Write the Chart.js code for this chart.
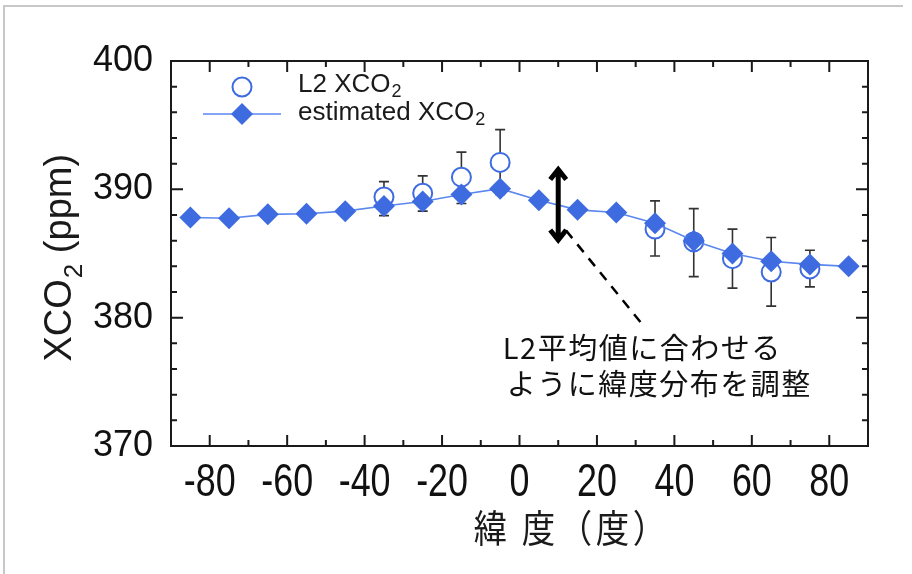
<!DOCTYPE html>
<html>
<head>
<meta charset="utf-8">
<script src="https://cdn.jsdelivr.net/npm/chart.js@4.4.0/dist/chart.umd.min.js"></script>
<style>
  html, body { margin: 0; padding: 0; background: #fff; }
  #wrap { width: 912px; height: 574px; position: relative; }
</style>
</head>
<body>
<div id="wrap"><canvas id="chart" width="912" height="574"></canvas></div>
<script>
// latitude bins (deg) and XCO2 values (ppm)
const lat = [-85, -75, -65, -55, -45, -35, -25, -15, -5, 5, 15, 25, 35, 45, 55, 65, 75, 85];
const estXco2 = [387.8, 387.75, 388.05, 388.1, 388.3, 388.7, 389.05, 389.6, 390.05,
                 389.15, 388.4, 388.2, 387.35, 386.0, 385.0, 384.4, 384.15, 384.0];

const l2Lat = [-35, -25, -15, -5, 35, 45, 55, 65, 75];
const l2Xco2 = [389.4, 389.7, 390.95, 392.1, 386.9, 385.9, 384.6, 383.55, 383.8];
const l2Low = [387.95, 388.3, 388.9, 389.6, 384.8, 383.2, 382.3, 380.9, 382.4];
const l2High = [390.6, 391.05, 392.9, 394.65, 389.1, 388.5, 386.9, 386.25, 385.25];

const xTicks = [-80, -60, -40, -20, 0, 20, 40, 60, 80];
const xMinor = [-90, -70, -50, -30, -10, 10, 30, 50, 70, 90];
const yTicks = [370, 380, 390, 400];
const yMinor = [372, 374, 376, 378, 382, 384, 386, 388, 392, 394, 396, 398];

const legendLabels = ['L2 XCO', 'estimated XCO'];
const xTitle = '緯 度（度）';
const yTitle = 'XCO';
const yUnit = ' (ppm)';
const noteLines = ['L2平均値に合わせる', 'ように緯度分布を調整'];

const BLUE = '#3e6be0';
const LINE_BLUE = '#5b87ef';
const INK = '#1a1a1a';

function subText(ctx, x, y, main, sub, size, after) {
    ctx.font = size + 'px "Liberation Sans", Arial, sans-serif';
    ctx.fillText(main, x, y);
    let w = ctx.measureText(main).width;
    ctx.font = Math.round(size * 0.68) + 'px "Liberation Sans", Arial, sans-serif';
    ctx.fillText(sub, x + w + 1, y + size * 0.28);
    w += ctx.measureText(sub).width + 1;
    if (after) {
        ctx.font = size + 'px "Liberation Sans", Arial, sans-serif';
        ctx.fillText(after, x + w, y);
    }
}

const decorPlugin = {
    id: 'decor',
    beforeDatasetsDraw(chart) {
        const ctx = chart.ctx;
        const xs = chart.scales.x, ys = chart.scales.y;
        ctx.save();
        ctx.strokeStyle = '#333';
        ctx.lineWidth = 1.6;
        for (let i = 0; i < l2Lat.length; i++) {
            const px = xs.getPixelForValue(l2Lat[i]);
            const lo = ys.getPixelForValue(l2Low[i]);
            const hi = ys.getPixelForValue(l2High[i]);
            ctx.beginPath();
            ctx.moveTo(px, lo); ctx.lineTo(px, hi);
            ctx.moveTo(px - 5, lo); ctx.lineTo(px + 5, lo);
            ctx.moveTo(px - 5, hi); ctx.lineTo(px + 5, hi);
            ctx.stroke();
        }
        ctx.restore();
    },
    afterDraw(chart) {
        const ctx = chart.ctx;
        const a = chart.chartArea;
        const xs = chart.scales.x, ys = chart.scales.y;
        ctx.save();

        // plot frame with inward ticks
        ctx.strokeStyle = INK;
        ctx.lineWidth = 2;
        ctx.strokeRect(a.left, a.top, a.right - a.left, a.bottom - a.top);
        ctx.beginPath();
        xTicks.forEach(v => {
            const p = xs.getPixelForValue(v);
            ctx.moveTo(p, a.bottom); ctx.lineTo(p, a.bottom - 11);
            ctx.moveTo(p, a.top); ctx.lineTo(p, a.top + 11);
        });
        xMinor.forEach(v => {
            const p = xs.getPixelForValue(v);
            ctx.moveTo(p, a.bottom); ctx.lineTo(p, a.bottom - 6);
            ctx.moveTo(p, a.top); ctx.lineTo(p, a.top + 6);
        });
        yTicks.forEach(v => {
            const p = ys.getPixelForValue(v);
            ctx.moveTo(a.left, p); ctx.lineTo(a.left + 12, p);
            ctx.moveTo(a.right, p); ctx.lineTo(a.right - 12, p);
        });
        yMinor.forEach(v => {
            const p = ys.getPixelForValue(v);
            ctx.moveTo(a.left, p); ctx.lineTo(a.left + 6, p);
            ctx.moveTo(a.right, p); ctx.lineTo(a.right - 6, p);
        });
        ctx.stroke();

        // x tick labels, condensed like the original
        ctx.fillStyle = '#111';
        ctx.textAlign = 'center';
        ctx.textBaseline = 'alphabetic';
        ctx.font = '46px "Liberation Sans", Arial, sans-serif';
        xTicks.forEach(v => {
            ctx.save();
            ctx.translate(xs.getPixelForValue(v), a.bottom + 50);
            ctx.scale(0.78, 1);
            ctx.fillText(String(v), 0, 0);
            ctx.restore();
        });

        // legend
        const lx = a.left + 71, ly1 = a.top + 26, ly2 = a.top + 53;
        ctx.lineWidth = 2;
        ctx.strokeStyle = BLUE;
        ctx.fillStyle = '#fff';
        ctx.beginPath(); ctx.arc(lx, ly1, 9.5, 0, Math.PI * 2); ctx.fill(); ctx.stroke();
        ctx.strokeStyle = LINE_BLUE;
        ctx.lineWidth = 1.6;
        ctx.beginPath(); ctx.moveTo(lx - 39, ly2); ctx.lineTo(lx + 39, ly2); ctx.stroke();
        ctx.fillStyle = BLUE;
        ctx.beginPath();
        ctx.moveTo(lx, ly2 - 11); ctx.lineTo(lx + 11, ly2); ctx.lineTo(lx, ly2 + 11); ctx.lineTo(lx - 11, ly2);
        ctx.closePath(); ctx.fill();
        ctx.fillStyle = INK;
        ctx.textBaseline = 'middle';
        ctx.textAlign = 'left';
        subText(ctx, lx + 56, ly1 - 2, legendLabels[0], '2', 26);
        subText(ctx, lx + 56, ly2 - 1, legendLabels[1], '2', 26);

        // axis titles
        ctx.textAlign = 'left';
        ctx.textBaseline = 'alphabetic';
        ctx.save();
        ctx.translate(a.left - 100, (a.top + a.bottom) / 2 + 108);
        ctx.rotate(-Math.PI / 2);
        subText(ctx, 0, 0, yTitle, '2', 38, yUnit);
        ctx.restore();

        ctx.save();
        ctx.font = '38px "Noto Sans CJK JP", sans-serif';
        ctx.textAlign = 'center';
        ctx.letterSpacing = '4px';
        ctx.translate(xs.getPixelForValue(13.5), a.bottom + 96);
        ctx.scale(0.88, 1);
        ctx.fillText(xTitle, 0, 0);
        ctx.restore();

        // double arrow + dashed leader
        const ax = xs.getPixelForValue(10);
        const aTop = ys.getPixelForValue(391.7), aBot = ys.getPixelForValue(385.9);
        ctx.strokeStyle = '#000';
        ctx.lineWidth = 5;
        ctx.lineCap = 'butt';
        ctx.lineJoin = 'miter';
        ctx.beginPath();
        ctx.moveTo(ax, aTop + 2); ctx.lineTo(ax, aBot - 2);
        ctx.moveTo(ax - 8, aTop + 12); ctx.lineTo(ax, aTop + 2); ctx.lineTo(ax + 8, aTop + 12);
        ctx.moveTo(ax - 8, aBot - 12); ctx.lineTo(ax, aBot - 2); ctx.lineTo(ax + 8, aBot - 12);
        ctx.stroke();

        ctx.lineWidth = 2.5;
        ctx.setLineDash([10, 8]);
        ctx.beginPath();
        ctx.moveTo(xs.getPixelForValue(12), ys.getPixelForValue(386.8));
        ctx.lineTo(xs.getPixelForValue(32.2), ys.getPixelForValue(379.3));
        ctx.stroke();
        ctx.setLineDash([]);

        // note text
        ctx.fillStyle = '#111';
        ctx.textAlign = 'left';
        ctx.font = '29px "Noto Sans CJK JP", sans-serif';
        ctx.letterSpacing = '1.5px';
        ctx.fillText(noteLines[0], xs.getPixelForValue(-4.3), ys.getPixelForValue(376.8));
        ctx.fillText(noteLines[1], xs.getPixelForValue(-3.3), ys.getPixelForValue(374.0));
        ctx.letterSpacing = '0px';

        // outer grey frame
        ctx.strokeStyle = '#c8c8c8';
        ctx.lineWidth = 2;
        ctx.beginPath();
        ctx.moveTo(4, 574); ctx.lineTo(4, 6); ctx.lineTo(903, 6);
        ctx.stroke();
        ctx.restore();
    }
};

new Chart(document.getElementById('chart'), {
    type: 'line',
    data: {
        datasets: [
            {
                label: 'estimated XCO2',
                data: lat.map((x, i) => ({ x: x, y: estXco2[i] })),
                borderColor: LINE_BLUE,
                borderWidth: 1.6,
                backgroundColor: BLUE,
                pointStyle: 'rectRot',
                pointRadius: 11,
                pointBorderWidth: 0,
                pointBackgroundColor: BLUE,
                tension: 0,
                order: 1
            },
            {
                label: 'L2 XCO2',
                data: l2Lat.map((x, i) => ({ x: x, y: l2Xco2[i] })),
                showLine: false,
                pointStyle: 'circle',
                pointRadius: 9.5,
                pointBorderWidth: 2,
                pointBorderColor: BLUE,
                pointBackgroundColor: '#fff',
                order: 2
            }
        ]
    },
    options: {
        responsive: false,
        animation: false,
        events: [],
        layout: { padding: { left: 0, right: 44, top: 61, bottom: 0 } },
        plugins: { legend: { display: false }, tooltip: { enabled: false } },
        scales: {
            x: {
                type: 'linear',
                min: -90,
                max: 90,
                afterBuildTicks: s => { s.ticks = xTicks.map(v => ({ value: v })); },
                afterFit: s => { s.height = 128; },
                grid: { display: false, drawTicks: false },
                border: { display: false },
                ticks: { display: false }
            },
            y: {
                min: 370,
                max: 400,
                afterBuildTicks: s => { s.ticks = yTicks.map(v => ({ value: v })); },
                afterFit: s => { s.width = 171; },
                grid: { display: false, drawTicks: false },
                border: { display: false },
                ticks: {
                    color: '#111',
                    padding: 18,
                    font: { family: '"Liberation Sans", Arial', size: 36 }
                }
            }
        }
    },
    plugins: [decorPlugin]
});
</script>
</body>
</html>
